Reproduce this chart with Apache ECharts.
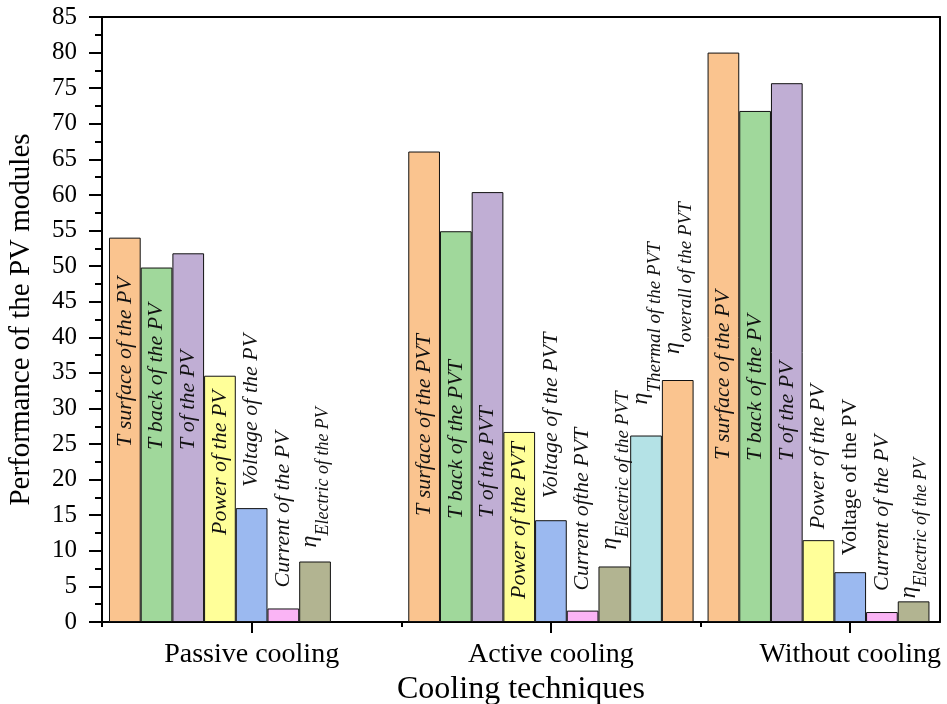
<!DOCTYPE html>
<html>
<head>
<meta charset="utf-8">
<title>Performance of the PV modules</title>
<script src="https://cdn.jsdelivr.net/npm/echarts@6/dist/echarts.min.js"></script>
<style>
  html, body { margin: 0; padding: 0; background: #fff; }
  #chart { width: 947px; height: 704px; }
</style>
</head>
<body>
<div id="chart"></div>
<script>
// --- data ---
const categories = ['Passive cooling', 'Active cooling', 'Without cooling'];

const tSurface    = [54.0, 66.1, 80.0];
const tBack       = [49.8, 54.9, 71.8];
const tModule     = [51.8, 60.4, 75.7];
const power       = [34.6, 26.7, 11.5];
const voltage     = [16.0, 14.3, 7.0];
const current     = [1.9, 1.6, 1.4];
const etaElectric = [8.5, 7.8, 2.9];
const etaThermal  = [null, 26.2, null];
const etaOverall  = [null, 34.0, null];

const labelsPassive = ['T surface of the PV', 'T back of the PV', 'T of the PV', 'Power of the PV',
  'Voltage of the PV', 'Current of the PV', 'ηElectric of the PV'];
const labelsActive = ['T surface of the PVT', 'T back of the PVT', 'T of the PVT', 'Power of the PVT',
  'Voltage of the PVT', 'Current ofthe PVT', 'ηElectric of the PVT', 'ηThermal of the PVT', 'ηoverall of the PVT'];
const labelsWithout = ['T surface of the PV', 'T back of the PV', 'T of the PV', 'Power of the PV',
  'Voltage of the PV', 'Current of the PV', 'ηElectric of the PV'];

// --- styling ---
const serif = '"Times New Roman", "Liberation Serif", serif';
const colors = ['#FAC48F', '#A0D89B', '#C0AED4', '#FFFF99', '#9BB9F0', '#FAB4F5', '#B2B491', '#B4E2E6', '#FAC48F'];
const pxPerUnit = 605 / 85; // grid height / y range

// where each rotated label starts: ['in', px above baseline] or ['up', px above bar top]
const labelPlace = [
  [['in', 175], ['in', 172], ['in', 172], ['in', 87], ['up', 21], ['up', 21], ['up', 14]],
  [['in', 106], ['in', 103], ['in', 104], ['in', 23], ['up', 22], ['up', 20], ['up', 17], ['up', 31], ['up', 26]],
  [['in', 162], ['in', 161], ['in', 161], ['up', 11], ['up', 17, 'upright'], ['up', 21], ['up', 3]]
];

const values = [tSurface, tBack, tModule, power, voltage, current, etaElectric, etaThermal, etaOverall];
const groupLabels = [labelsPassive, labelsActive, labelsWithout];

function labelText(text, group) {
  if (text.charAt(0) === 'η') {
    return '{e|η}{' + (group === 1 ? 'm' : 's') + '|' + text.slice(1) + '}';
  }
  return text;
}

const series = values.map((vals, si) => ({
  type: 'bar',
  xAxisIndex: 0,
  yAxisIndex: 0,
  barWidth: 31.7,
  barGap: '0%',
  itemStyle: { color: colors[si], borderColor: '#111', borderWidth: 1 },
  label: {
    show: true,
    position: 'insideBottom',
    distance: 0,
    rotate: 90,
    align: 'left',
    verticalAlign: 'middle',
    color: '#111',
    fontFamily: serif,
    fontStyle: 'italic',
    fontSize: 22,
    formatter: p => {
      const gi = p.value[0] - 1;
      return labelText(groupLabels[gi][p.seriesIndex], gi);
    },
    rich: {
      e: { fontSize: 24, lineHeight: 24, verticalAlign: 'top', fontFamily: serif, color: '#111' },
      s: { fontSize: 18, lineHeight: 18, padding: [16, 0, 0, 0], verticalAlign: 'top',
           fontFamily: serif, fontStyle: 'italic', color: '#111' },
      m: { fontSize: 19, lineHeight: 19, padding: [16, 0, 0, 0], verticalAlign: 'top',
           fontFamily: serif, fontStyle: 'italic', color: '#111' }
    }
  },
  data: vals.map((v, gi) => {
    if (v == null) return null;
    const place = labelPlace[gi][si];
    const lift = place[0] === 'in' ? place[1] : v * pxPerUnit + place[1];
    const isEta = groupLabels[gi][si].charAt(0) === 'η';
    // the offset is taken in the rotated text frame: x runs up the bar
    return {
      value: [gi + 1, v],
      label: {
        offset: [lift, isEta ? -5 : 0],
        fontStyle: place[2] === 'upright' ? 'normal' : 'italic'
      }
    };
  }).filter(d => d !== null)
}));

const chart = echarts.init(document.getElementById('chart'));

chart.setOption({
  animation: false,
  backgroundColor: '#fff',
  grid: { left: 102, right: 7, top: 17, bottom: 82, outerBoundsMode: 'none' },
  xAxis: [
    {
      type: 'value', position: 'bottom', min: 0.5, max: 3.3,
      axisLine: { show: true, onZero: false, lineStyle: { color: '#000', width: 2 } },
      axisTick: { show: true, customValues: [1, 2, 3], length: 11, lineStyle: { color: '#000', width: 2 } },
      axisLabel: {
        customValues: [1, 2, 3],
        formatter: v => categories[Math.round(v) - 1],
        margin: 19, fontSize: 28, fontFamily: serif, color: '#000'
      },
      splitLine: { show: false },
      name: 'Cooling techniques', nameLocation: 'middle', nameGap: 50,
      nameTextStyle: { fontSize: 32, fontFamily: serif, color: '#000' }
    },
    {
      type: 'value', position: 'bottom', min: 0.5, max: 3.3,
      axisLine: { show: false },
      axisTick: { show: true, customValues: [0.5, 1.5, 2.5], length: 5, lineStyle: { color: '#000', width: 2 } },
      axisLabel: { show: false },
      splitLine: { show: false }
    },
    {
      type: 'value', position: 'top', min: 0.5, max: 3.3,
      axisLine: { show: true, onZero: false, lineStyle: { color: '#000', width: 2 } },
      axisTick: { show: false },
      axisLabel: { show: false },
      splitLine: { show: false }
    }
  ],
  yAxis: [
    {
      type: 'value', position: 'left', min: 0, max: 85, interval: 5,
      axisLine: { show: true, onZero: false, lineStyle: { color: '#000', width: 2 } },
      axisTick: { show: true, length: 13, lineStyle: { color: '#000', width: 2 } },
      minorTick: { show: true, splitNumber: 2, length: 7, lineStyle: { color: '#000', width: 2 } },
      axisLabel: { margin: 25, fontSize: 25, fontFamily: serif, color: '#000' },
      splitLine: { show: false },
      minorSplitLine: { show: false },
      name: 'Performance of the PV modules', nameLocation: 'middle', nameGap: 66,
      nameTextStyle: { fontSize: 29, fontFamily: serif, color: '#000' }
    },
    {
      type: 'value', position: 'right', min: 0, max: 85,
      axisLine: { show: true, onZero: false, lineStyle: { color: '#000', width: 2 } },
      axisTick: { show: false },
      axisLabel: { show: false },
      splitLine: { show: false }
    }
  ],
  series: series
});
</script>
</body>
</html>
